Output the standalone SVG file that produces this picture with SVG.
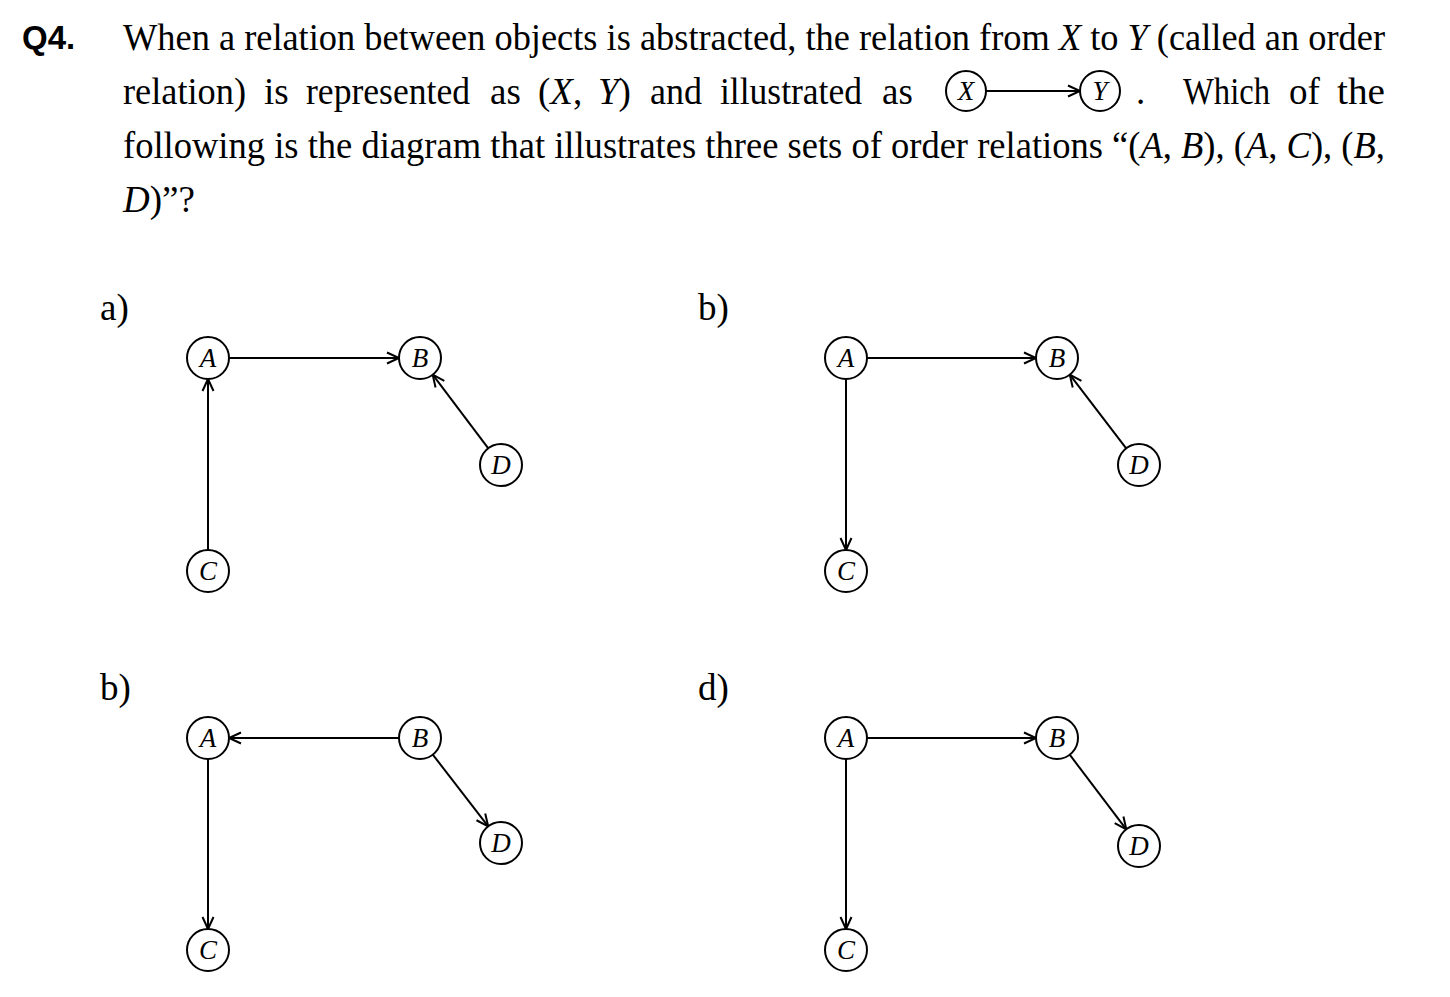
<svg xmlns="http://www.w3.org/2000/svg" width="1450" height="997" viewBox="0 0 1450 997">
<defs>
<marker id="arr" markerUnits="userSpaceOnUse" markerWidth="16" markerHeight="14" refX="13" refY="7" orient="auto">
<path d="M1,1.5 L13,7 L1,12.5" fill="none" stroke="#000" stroke-width="2"/>
</marker>
</defs>
<style>
.t{font-family:"Liberation Serif","Times New Roman",serif;font-size:37px;fill:#000}
.q{font-family:"Liberation Sans",Arial,sans-serif;font-size:33px;font-weight:bold;fill:#000}
.i{font-style:italic}
.n circle{fill:#fff;stroke:#000;stroke-width:2}
.n text{font-family:"Liberation Serif","Times New Roman",serif;font-style:italic;font-size:27px;fill:#000;text-anchor:middle}
.e line{stroke:#000;stroke-width:2;marker-end:url(#arr)}
</style>
<rect width="1450" height="997" fill="#fff"/>
<g id="question">
<text class="q" x="22" y="49">Q4.</text>
<text class="t" x="123" y="50" textLength="1262" lengthAdjust="spacingAndGlyphs">When a relation between objects is abstracted, the relation from <tspan class="i">X</tspan> to <tspan class="i">Y</tspan> (called an order</text>
<text class="t" y="104"><tspan x="123" textLength="123" lengthAdjust="spacingAndGlyphs">relation)</tspan><tspan x="264">is</tspan><tspan x="306" textLength="164" lengthAdjust="spacingAndGlyphs">represented</tspan><tspan x="490">as</tspan><tspan x="538">(<tspan class="i">X</tspan>,</tspan><tspan x="598" class="i">Y</tspan>)<tspan x="650" textLength="52" lengthAdjust="spacingAndGlyphs">and</tspan><tspan x="720" textLength="142" lengthAdjust="spacingAndGlyphs">illustrated</tspan><tspan x="882">as</tspan></text>
<text class="t" x="1136" y="104">.</text>
<text class="t" y="104"><tspan x="1183" textLength="87" lengthAdjust="spacingAndGlyphs">Which</tspan><tspan x="1289">of</tspan><tspan x="1337" textLength="48" lengthAdjust="spacingAndGlyphs">the</tspan></text>
<text class="t" x="123" y="158" textLength="1262" lengthAdjust="spacingAndGlyphs">following is the diagram that illustrates three sets of order relations “(<tspan class="i">A</tspan>, <tspan class="i">B</tspan>), (<tspan class="i">A</tspan>, <tspan class="i">C</tspan>), (<tspan class="i">B</tspan>,</text>
<text class="t" x="123" y="212"><tspan class="i">D</tspan>)”?</text>
</g>
<g id="example">
<g class="e"><line x1="986" y1="91" x2="1080" y2="91"/></g>
<g id="ex-X" class="n"><circle cx="966" cy="91" r="20"/><text x="966" y="100">X</text></g>
<g id="ex-Y" class="n"><circle cx="1100" cy="91" r="20"/><text x="1100" y="100">Y</text></g>
</g>
<g id="labels">
<text class="t" x="100" y="320">a)</text>
<text class="t" x="698" y="320">b)</text>
<text class="t" x="100" y="700">b)</text>
<text class="t" x="698" y="700">d)</text>
</g>
<g id="connectors" class="e">
<line x1="229" y1="358" x2="399" y2="358"/>
<line x1="208" y1="550" x2="208" y2="379"/>
<line x1="488.3" y1="448.3" x2="432.7" y2="374.7"/>
<line x1="867" y1="358" x2="1036" y2="358"/>
<line x1="846" y1="379" x2="846" y2="550"/>
<line x1="1126.2" y1="448.3" x2="1069.8" y2="374.7"/>
<line x1="399" y1="738" x2="229" y2="738"/>
<line x1="208" y1="759" x2="208" y2="929"/>
<line x1="432.8" y1="754.6" x2="488.2" y2="826.4"/>
<line x1="867" y1="738" x2="1036" y2="738"/>
<line x1="846" y1="759" x2="846" y2="929"/>
<line x1="1069.7" y1="754.7" x2="1126.3" y2="829.3"/>
</g>
<g id="a-A" class="n"><circle cx="208" cy="358" r="21"/><text x="208" y="367">A</text></g>
<g id="a-B" class="n"><circle cx="420" cy="358" r="21"/><text x="420" y="367">B</text></g>
<g id="a-C" class="n"><circle cx="208" cy="571" r="21"/><text x="208" y="580">C</text></g>
<g id="a-D" class="n"><circle cx="501" cy="465" r="21"/><text x="501" y="474">D</text></g>
<g id="b-A" class="n"><circle cx="846" cy="358" r="21"/><text x="846" y="367">A</text></g>
<g id="b-B" class="n"><circle cx="1057" cy="358" r="21"/><text x="1057" y="367">B</text></g>
<g id="b-C" class="n"><circle cx="846" cy="571" r="21"/><text x="846" y="580">C</text></g>
<g id="b-D" class="n"><circle cx="1139" cy="465" r="21"/><text x="1139" y="474">D</text></g>
<g id="c-A" class="n"><circle cx="208" cy="738" r="21"/><text x="208" y="747">A</text></g>
<g id="c-B" class="n"><circle cx="420" cy="738" r="21"/><text x="420" y="747">B</text></g>
<g id="c-C" class="n"><circle cx="208" cy="950" r="21"/><text x="208" y="959">C</text></g>
<g id="c-D" class="n"><circle cx="501" cy="843" r="21"/><text x="501" y="852">D</text></g>
<g id="d-A" class="n"><circle cx="846" cy="738" r="21"/><text x="846" y="747">A</text></g>
<g id="d-B" class="n"><circle cx="1057" cy="738" r="21"/><text x="1057" y="747">B</text></g>
<g id="d-C" class="n"><circle cx="846" cy="950" r="21"/><text x="846" y="959">C</text></g>
<g id="d-D" class="n"><circle cx="1139" cy="846" r="21"/><text x="1139" y="855">D</text></g>
</svg>
